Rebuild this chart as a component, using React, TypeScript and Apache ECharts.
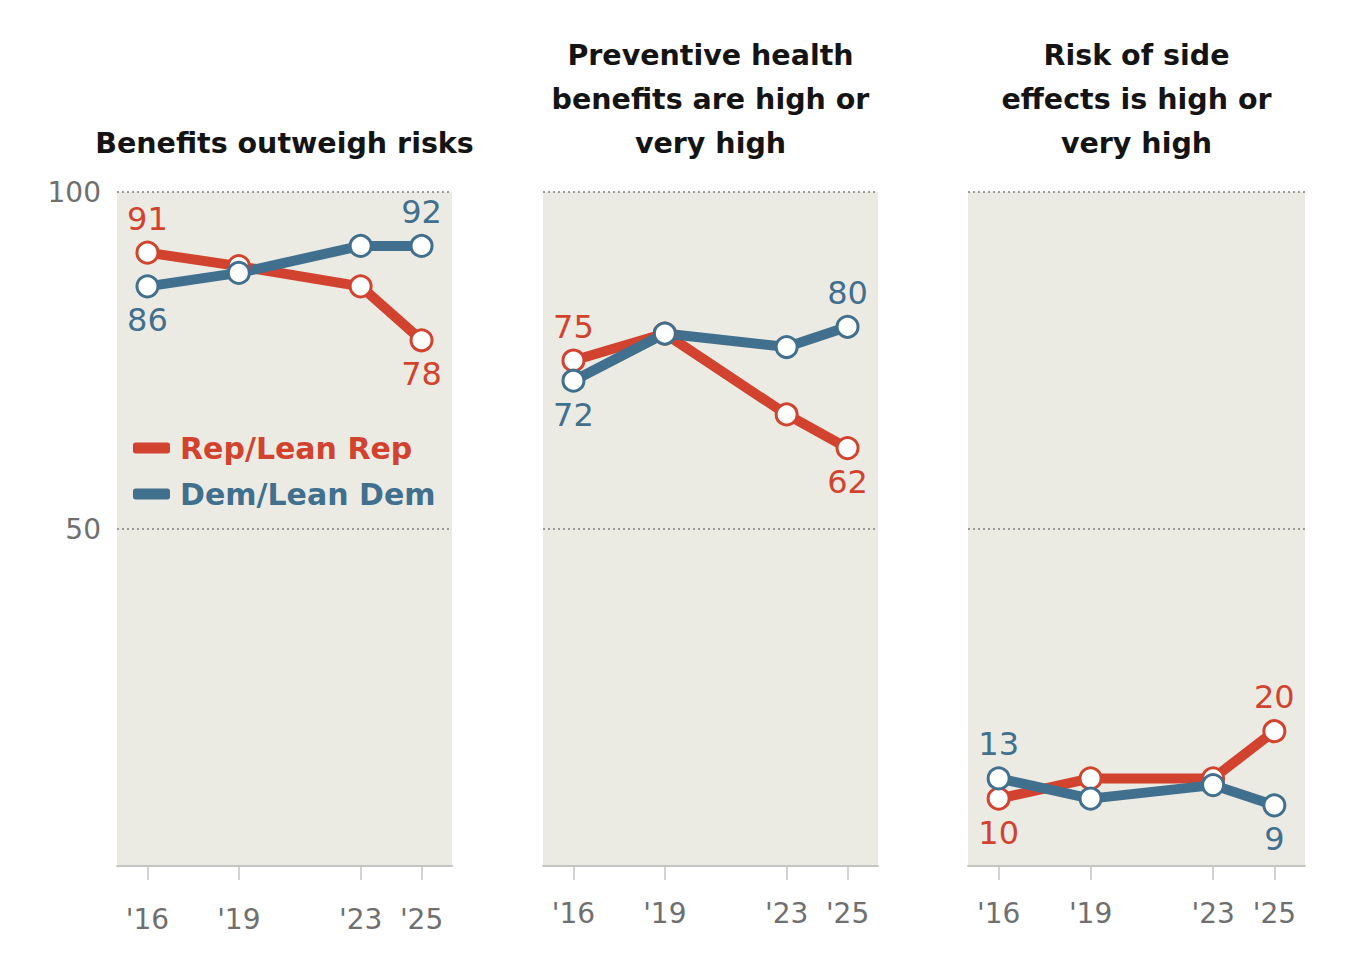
import React, { useEffect, useRef } from "react";
import * as echarts from "echarts";

const years = [2016, 2019, 2023, 2025];
const panelTitles = [
  "Benefits outweigh risks",
  "Preventive health\nbenefits are high or\nvery high",
  "Risk of side\neffects is high or\nvery high",
];
const repBenefits = [91, 89, 86, 78];
const demBenefits = [86, 88, 92, 92];
const repPreventive = [75, 79, 67, 62];
const demPreventive = [72, 79, 77, 80];
const repSideEffects = [10, 13, 13, 20];
const demSideEffects = [13, 10, 12, 9];
const seriesNames = ["Rep/Lean Rep", "Dem/Lean Dem"];

const RED = "#D2432F";
const BLUE = "#41708F";
const BG = "#ECEBE3";
const GRAY = "#6f6f6f";
const FONT = "DejaVu Sans";

const panels = [
  { left: 117, width: 335, rep: repBenefits, dem: demBenefits },
  { left: 543, width: 335, rep: repPreventive, dem: demPreventive },
  { left: 968, width: 337, rep: repSideEffects, dem: demSideEffects },
];
const TOP = 192;
const HEIGHT = 674;

function buildData(own: number[], other: number[]) {
  return own.map((v, i) => {
    const edge = i === 0 || i === own.length - 1;
    const item: any = { value: [years[i], v] };
    if (edge) {
      item.label = { show: true, position: v >= other[i] ? "top" : "bottom" };
    }
    return item;
  });
}

export default function App() {
  const ref = useRef<HTMLDivElement>(null);
  useEffect(() => {
    if (!ref.current) return;
    const chart = echarts.init(ref.current, undefined, { renderer: "svg" });
    const grid: any[] = [];
    const xAxis: any[] = [];
    const yAxis: any[] = [];
    const series: any[] = [];
    const graphic: any[] = [];
    panels.forEach((p, k) => {
      grid.push({
        left: p.left,
        width: p.width,
        top: TOP,
        height: HEIGHT,
        show: true,
        backgroundColor: BG,
        borderWidth: 0,
      });
      xAxis.push({
        type: "value",
        gridIndex: k,
        min: 2015,
        max: 2026,
        interval: 1,
        splitLine: { show: false },
        axisLine: { show: true, lineStyle: { color: "#c4c4c0", width: 2 } },
        axisTick: {
          show: true,
          customValues: years,
          length: 14,
          lineStyle: { color: "#c4c4c0", width: 1.5 },
        },
        axisLabel: {
          customValues: years,
          formatter: (v: number) => "'" + String(v).slice(2),
          color: GRAY,
          fontSize: 28,
          fontFamily: FONT,
          margin: k === 0 ? 39 : 33,
        },
      });
      yAxis.push({
        type: "value",
        gridIndex: k,
        min: 0,
        max: 100,
        interval: 50,
        axisLine: { show: false },
        axisTick: { show: false },
        splitLine: {
          show: true,
          lineStyle: { color: "#9a9a9a", width: 2, type: [2, 3] },
        },
        axisLabel: {
          show: k === 0,
          formatter: (v: number) => (v === 0 ? "" : String(v)),
          color: GRAY,
          fontSize: 28,
          fontFamily: FONT,
          margin: 16,
        },
      });
      const defs = [
        { name: seriesNames[0], color: RED, own: p.rep, other: p.dem },
        { name: seriesNames[1], color: BLUE, own: p.dem, other: p.rep },
      ];
      defs.forEach((d) => {
        series.push({
          type: "line",
          name: d.name,
          xAxisIndex: k,
          yAxisIndex: k,
          data: buildData(d.own, d.other),
          symbol: "circle",
          symbolSize: 21,
          showAllSymbol: true,
          lineStyle: { color: d.color, width: 10 },
          itemStyle: { color: "#fff", borderColor: d.color, borderWidth: 3 },
          label: {
            show: false,
            color: d.color,
            fontSize: 32,
            fontFamily: FONT,
            distance: 6,
            formatter: (pr: any) => String(pr.value[1]),
          },
          emphasis: { disabled: true },
        });
      });
      graphic.push({
        type: "text",
        x: p.left + p.width / 2,
        y: 165,
        style: {
          text: panelTitles[k],
          textAlign: "center",
          textVerticalAlign: "bottom",
          fontSize: 28.5,
          fontWeight: "bold",
          fontFamily: FONT,
          lineHeight: 44,
          fill: "#141414",
        },
      });
    });
    chart.setOption({
      animation: false,
      backgroundColor: "#fff",
      grid,
      xAxis,
      yAxis,
      series,
      graphic,
      legend: {
        orient: "vertical",
        left: 128,
        top: 428,
        icon: "roundRect",
        itemWidth: 37,
        itemHeight: 11,
        itemGap: 16,
        selectedMode: false,
        data: [
          {
            name: seriesNames[0],
            itemStyle: { color: RED, borderWidth: 0 },
            textStyle: { color: RED },
          },
          {
            name: seriesNames[1],
            itemStyle: { color: BLUE, borderWidth: 0 },
            textStyle: { color: BLUE },
          },
        ],
        textStyle: {
          fontSize: 30,
          fontWeight: "bold",
          fontFamily: FONT,
          padding: [0, 0, 0, 5],
        },
      },
    });
    return () => chart.dispose();
  }, []);
  return (
    <div
      ref={ref}
      style={{ position: "fixed", left: 0, top: 0, width: 1370, height: 972 }}
    />
  );
}
